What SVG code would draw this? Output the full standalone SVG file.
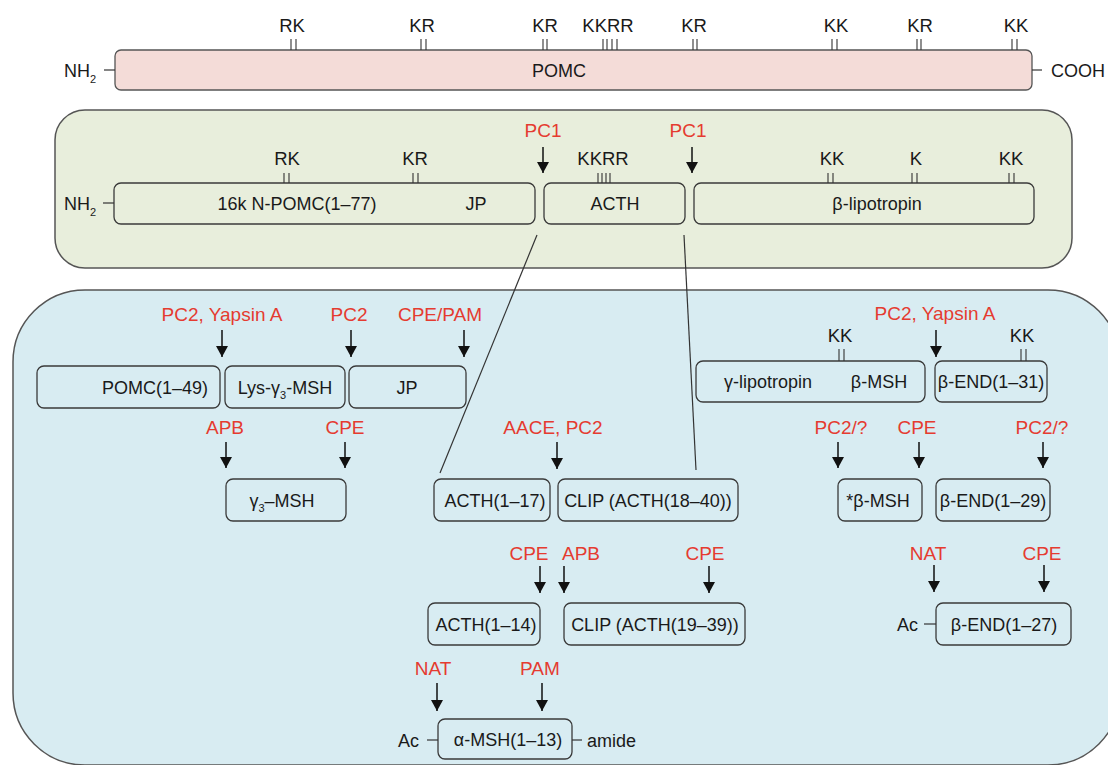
<svg xmlns="http://www.w3.org/2000/svg" width="1108" height="765" viewBox="0 0 1108 765">
<defs>
<style>
.t{font-family:"Liberation Sans",Arial,sans-serif;font-size:18px;fill:#1a1a1a}
.m{text-anchor:middle}
.r{fill:#e53b30;font-size:19px}
.box{fill:none;stroke:#3a3a3a;stroke-width:1.3}
.tk{stroke:#333;stroke-width:1.1;fill:none}
.ln{stroke:#333;stroke-width:1.2;fill:none}
.arr{stroke:#111;stroke-width:1.5;marker-end:url(#ah)}
.sub{font-size:11px}
.k{font-size:18.5px}
</style>
<marker id="ah" markerUnits="userSpaceOnUse" markerWidth="11" markerHeight="12" viewBox="0 0 11 12" refX="11" refY="6" orient="auto"><path d="M0,0 L11,6 L0,12 z" fill="#111"/></marker>
</defs>
<rect width="1108" height="765" fill="#ffffff"/>

<!-- panels -->
<g id="panel-green"><rect x="55" y="110" width="1017" height="158" rx="30" fill="#e8eedc" stroke="#555" stroke-width="1.5"/></g>
<g id="panel-blue"><rect x="13" y="290" width="1107" height="475" rx="72" fill="#d8ecf2" stroke="#555" stroke-width="1.5"/></g>

<!-- top POMC -->
<g id="pomc">
<rect x="115" y="50" width="917" height="40" rx="6" fill="#f4dcd8" stroke="#555" stroke-width="1.3"/>
<text class="t m" x="559" y="77">POMC</text>
<text class="t" x="64" y="77">NH<tspan class="sub" dy="6">2</tspan></text>
<text class="t" x="1051" y="77">COOH</text>
<path class="tk" d="M291,39V50M296,39V50M421,39V50M426,39V50M543,39V50M547,39V50M603,39V50M607,39V50M612,39V50M617,39V50M693,39V50M697,39V50M832,39V50M837,39V50M917,39V50M921,39V50M1012,39V50M1017,39V50"/>
<text class="t m k" x="292" y="32">RK</text>
<text class="t m k" x="422" y="32">KR</text>
<text class="t m k" x="545" y="32">KR</text>
<text class="t m k" x="608" y="32">KKRR</text>
<text class="t m k" x="694" y="32">KR</text>
<text class="t m k" x="836" y="32">KK</text>
<text class="t m k" x="920" y="32">KR</text>
<text class="t m k" x="1016" y="32">KK</text>
</g>

<!-- green panel nodes -->
<g id="n-pomc16k">
<rect class="box" x="114" y="183" width="421" height="41" rx="7"/>
<text class="t m" x="297" y="210">16k N-POMC(1–77)</text>
<text class="t m" x="476" y="210">JP</text>
<text class="t" x="64" y="210">NH<tspan class="sub" dy="6">2</tspan></text>
</g>
<g id="n-acth">
<rect class="box" x="544" y="183" width="141" height="41" rx="7"/>
<text class="t m" x="615" y="210">ACTH</text>
</g>
<g id="n-blpt">
<rect class="box" x="694" y="183" width="340" height="41" rx="7"/>
<text class="t m" x="877" y="210">β-lipotropin</text>
</g>
<g id="green-sites">
<path class="tk" d="M284,173V183M289,173V183M413,173V183M418,173V183M598,173V183M602,173V183M606,173V183M610,173V183M828,173V183M833,173V183M912,173V183M917,173V183M1009,173V183M1014,173V183"/>
<text class="t m k" x="287" y="165">RK</text>
<text class="t m k" x="415" y="165">KR</text>
<text class="t m k" x="603" y="165">KKRR</text>
<text class="t m k" x="832" y="165">KK</text>
<text class="t m k" x="916" y="165">K</text>
<text class="t m k" x="1011" y="165">KK</text>
<text class="t m r" x="543" y="137">PC1</text>
<text class="t m r" x="688" y="137">PC1</text>
</g>

<!-- blue panel nodes -->
<g id="n-pomc149"><rect class="box" x="37" y="366" width="183" height="42" rx="7"/><text class="t m" x="155" y="394">POMC(1–49)</text></g>
<g id="n-lysg3"><rect class="box" x="225" y="366" width="120" height="42" rx="7"/><text class="t m" x="285" y="394">Lys-γ<tspan class="sub" dy="5">3</tspan><tspan dy="-5">-MSH</tspan></text></g>
<g id="n-jp"><rect class="box" x="349" y="366" width="117" height="42" rx="7"/><text class="t m" x="407" y="394">JP</text></g>
<g id="n-glpt"><rect class="box" x="696" y="361" width="229" height="41" rx="7"/><text class="t m" x="768" y="388">γ-lipotropin</text><text class="t m" x="879" y="388">β-MSH</text></g>
<g id="n-bend31"><rect class="box" x="935" y="361" width="112" height="41" rx="7"/><text class="t m" x="991" y="388">β-END(1–31)</text></g>

<g id="n-g3msh"><rect class="box" x="226" y="479" width="120" height="42" rx="7"/><text class="t m" x="282" y="507">γ<tspan class="sub" dy="5">3</tspan><tspan dy="-5">–MSH</tspan></text></g>
<g id="n-acth117"><rect class="box" x="434" y="479" width="116" height="42" rx="7"/><text class="t m" x="495" y="507">ACTH(1–17)</text></g>
<g id="n-clip1840"><rect class="box" x="558" y="479" width="180" height="42" rx="7"/><text class="t m" x="648" y="507">CLIP (ACTH(18–40))</text></g>
<g id="n-bmsh"><rect class="box" x="838" y="479" width="84" height="42" rx="7"/><text class="t m" x="878" y="507">*β-MSH</text></g>
<g id="n-bend29"><rect class="box" x="936" y="479" width="114" height="42" rx="7"/><text class="t m" x="993" y="507">β-END(1–29)</text></g>

<g id="n-acth114"><rect class="box" x="428" y="603" width="112" height="42" rx="7"/><text class="t m" x="486" y="631">ACTH(1–14)</text></g>
<g id="n-clip1939"><rect class="box" x="564" y="603" width="181" height="42" rx="7"/><text class="t m" x="655" y="631">CLIP (ACTH(19–39))</text></g>
<g id="n-bend27"><rect class="box" x="936" y="603" width="135" height="42" rx="7"/><text class="t m" x="1004" y="631">β-END(1–27)</text><text class="t" x="897" y="631">Ac</text></g>

<g id="n-amsh"><rect class="box" x="438" y="719" width="134" height="40" rx="7"/><text class="t m" x="508" y="746">α-MSH(1–13)</text><text class="t" x="398" y="747">Ac</text><text class="t" x="587" y="747">amide</text></g>

<g id="blue-sites">
<path class="tk" d="M839,349V361M844,349V361M1021,349V361M1026,349V361"/>
<text class="t m k" x="840" y="342">KK</text>
<text class="t m k" x="1022" y="342">KK</text>
</g>

<g id="enzymes">
<text class="t m r" x="222" y="321">PC2, Yapsin A</text>
<text class="t m r" x="349" y="321">PC2</text>
<text class="t m r" x="440" y="321">CPE/PAM</text>
<text class="t m r" x="935" y="320">PC2, Yapsin A</text>
<text class="t m r" x="225" y="434">APB</text>
<text class="t m r" x="345" y="434">CPE</text>
<text class="t m r" x="553" y="434">AACE, PC2</text>
<text class="t m r" x="841" y="434">PC2/?</text>
<text class="t m r" x="917" y="434">CPE</text>
<text class="t m r" x="1042" y="434">PC2/?</text>
<text class="t m r" x="529" y="560">CPE</text>
<text class="t m r" x="581" y="560">APB</text>
<text class="t m r" x="705" y="560">CPE</text>
<text class="t m r" x="928" y="560">NAT</text>
<text class="t m r" x="1042" y="560">CPE</text>
<text class="t m r" x="433" y="675">NAT</text>
<text class="t m r" x="540" y="675">PAM</text>
</g>

<g id="connectors">
<line class="ln" x1="104" y1="70" x2="115" y2="70"/>
<line class="ln" x1="1032" y1="70" x2="1042" y2="70"/>
<line class="ln" x1="103" y1="203" x2="114" y2="203"/>
<line class="ln" x1="537" y1="235" x2="440" y2="473"/>
<line class="ln" x1="684" y1="235" x2="696" y2="470"/>
<line class="ln" x1="924" y1="624" x2="936" y2="624"/>
<line class="ln" x1="427" y1="740" x2="438" y2="740"/>
<line class="ln" x1="572" y1="740" x2="582" y2="740"/>
<line class="arr" x1="543" y1="147" x2="543" y2="173"/>
<line class="arr" x1="692" y1="147" x2="692" y2="173"/>
<line class="arr" x1="222" y1="330" x2="222" y2="357"/>
<line class="arr" x1="351" y1="330" x2="351" y2="357"/>
<line class="arr" x1="464" y1="330" x2="464" y2="357"/>
<line class="arr" x1="936" y1="330" x2="936" y2="357"/>
<line class="arr" x1="226" y1="442" x2="226" y2="468"/>
<line class="arr" x1="345" y1="442" x2="345" y2="468"/>
<line class="arr" x1="557" y1="442" x2="557" y2="469"/>
<line class="arr" x1="838" y1="442" x2="838" y2="468"/>
<line class="arr" x1="919" y1="442" x2="919" y2="468"/>
<line class="arr" x1="1043" y1="442" x2="1043" y2="468"/>
<line class="arr" x1="540" y1="566" x2="540" y2="593"/>
<line class="arr" x1="564" y1="566" x2="564" y2="593"/>
<line class="arr" x1="709" y1="566" x2="709" y2="593"/>
<line class="arr" x1="934" y1="565" x2="934" y2="592"/>
<line class="arr" x1="1044" y1="565" x2="1044" y2="592"/>
<line class="arr" x1="437" y1="683" x2="437" y2="711"/>
<line class="arr" x1="542" y1="683" x2="542" y2="711"/>
</g>
</svg>
